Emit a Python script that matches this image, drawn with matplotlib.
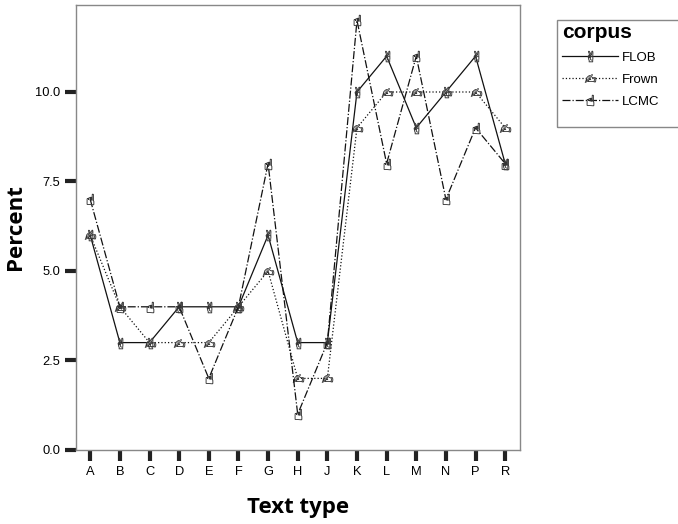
import numpy
import matplotlib
matplotlib.use('Agg')
import matplotlib.pyplot as plt
from matplotlib.patches import Rectangle

text_types = ['A', 'B', 'C', 'D', 'E', 'F', 'G', 'H', 'J', 'K', 'L', 'M', 'N', 'P', 'R']
flob = [6, 3, 3, 4, 4, 4, 6, 3, 3, 10, 11, 9, 10, 11, 8]
frown = [6, 4, 3, 3, 3, 4, 5, 2, 2, 9, 10, 10, 10, 10, 9]
lcmc = [7, 4, 4, 4, 2, 4, 8, 1, 3, 12, 8, 11, 7, 9, 8]
yticks = [0.0, 2.5, 5.0, 7.5, 10.0]

plt.rcParams['font.family'] = ['Liberation Sans', 'DejaVu Sans']

fig = plt.figure(figsize=(6.78, 5.24), dpi=100)
ax = fig.add_axes([76/678, 74/524, 444/678, 445/524])

x = numpy.arange(len(text_types))
series = [
    ('FLOB', flob, '-', '$\u270C$'),
    ('Frown', frown, ':', '$\u270D$'),
    ('LCMC', lcmc, '-.', '$\u261D$'),
]
for name, vals, ls, mk in series:
    ax.plot(x, vals, linestyle=ls, color='#111111', linewidth=0.9,
            marker=mk, markersize=8, markeredgewidth=0.3,
            markeredgecolor='#333333', markerfacecolor='#9a9a9a',
            label=name)

ax.set_xlim(-0.48, 14.5)
ax.set_ylim(0, 12.43)
ax.set_xticks(x)
ax.set_xticklabels(text_types)
ax.set_yticks(yticks)
ax.set_yticklabels(['%.1f' % v for v in yticks])
ax.tick_params(direction='out', length=8, width=3, color='#222222',
               labelsize=9.25, pad=3.5)
for sp in ax.spines.values():
    sp.set_color('#888888')
    sp.set_linewidth(1.0)

ax.set_ylabel('Percent', fontsize=16, fontweight='bold', family='Open Sans', labelpad=6)
ax.set_xlabel('Text type', fontsize=16, fontweight='bold', family='Open Sans', labelpad=14)

leg = ax.legend(loc='upper left', bbox_to_anchor=(559/678, 1 - 20/524),
                bbox_transform=fig.transFigure, title='corpus',
                frameon=False, fontsize=9.5, handlelength=4.3,
                handletextpad=0.3, borderaxespad=0, borderpad=0.2,
                labelspacing=0.75, alignment='left')
leg.get_title().set_fontweight('bold')
leg.get_title().set_fontsize(15)

# legend box, runs past the right edge of the picture
fig.patches.append(Rectangle((557/678, 1 - 127/524), 140/678, 107/524,
                             transform=fig.transFigure, fill=False,
                             edgecolor='#888888', linewidth=1.0))

fig.savefig('out.png', dpi=100)
